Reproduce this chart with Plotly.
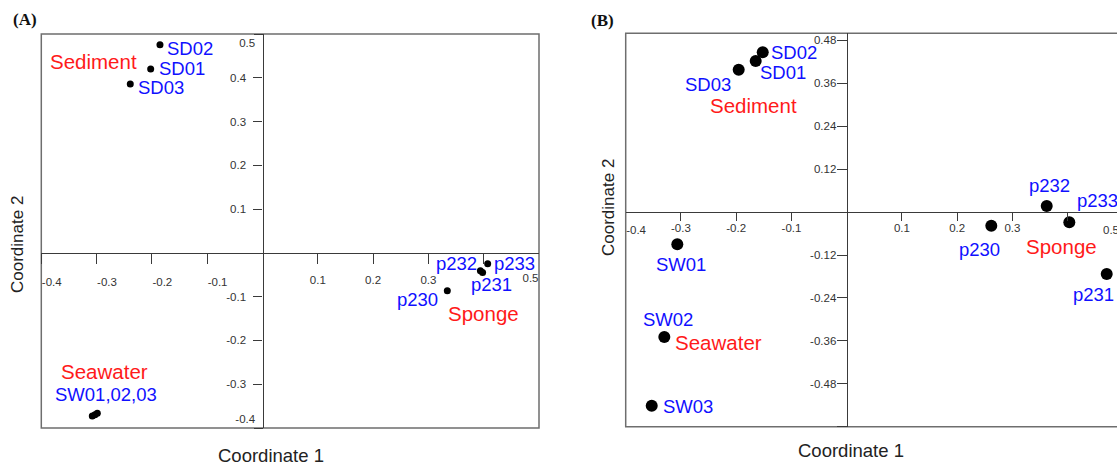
import plotly.graph_objects as go

W, H = 1117, 466

# ---------------- data ----------------
# Panel A (PCoA) sample coordinates
a_names = ["SD01", "SD02", "SD03", "SW01", "SW02", "SW03", "p230", "p231", "p232", "p233"]
a_x = [-0.2022, -0.1854, -0.2391, -0.3078, -0.2987, -0.3030, 0.3342, 0.398, 0.394, 0.4072]
a_y = [0.4201, 0.4756, 0.3856, -0.3725, -0.3664, -0.3700, -0.0863, -0.045, -0.041, -0.0247]

# Panel B (PCoA) sample coordinates
b_names = ["SD01", "SD02", "SD03", "SW01", "SW02", "SW03", "p230", "p231", "p232", "p233"]
b_x = [-0.1647, -0.1520, -0.1955, -0.3066, -0.3301, -0.3529, 0.2617, 0.4706, 0.3620, 0.4029]
b_y = [0.4225, 0.4469, 0.3982, -0.0900, -0.3493, -0.5414, -0.0380, -0.1731, 0.0171, -0.0285]

# group names
groups = ["Sediment", "Seawater", "Sponge"]

# tick values / labels
a_xticks_neg = [-0.4, -0.3, -0.2, -0.1]
a_xticks_neg_txt = ["-0.4", "-0.3", "-0.2", "-0.1"]
a_xticks_pos = [0.1, 0.2, 0.3, 0.4]
a_xticks_pos_txt = ["0.1", "0.2", "0.3", ""]
a_xticks_end = [0.5]
a_xticks_end_txt = ["0.5"]
a_yticks = [-0.3, -0.2, -0.1, 0.1, 0.2, 0.3, 0.4]
a_yticks_txt = ["-0.3", "-0.2", "-0.1", "0.1", "0.2", "0.3", "0.4"]
a_yticks_top = [0.5]
a_yticks_top_txt = ["0.5"]
a_yticks_bot = [-0.4]
a_yticks_bot_txt = ["-0.4"]

b_xticks = [-0.3, -0.2, -0.1, 0.1, 0.2, 0.3, 0.4]
b_xticks_txt = ["-0.3", "-0.2", "-0.1", "0.1", "0.2", "0.3", ""]
b_xticks_first = [-0.4]
b_xticks_first_txt = ["-0.4"]
b_xtick_last = 0.5
b_xtick_last_txt = "0.5"
b_yticks = [-0.6, -0.48, -0.36, -0.24, -0.12, 0.12, 0.24, 0.36, 0.48]
b_yticks_txt = ["", "-0.48", "-0.36", "-0.24", "-0.12", "0.12", "0.24", "0.36", "0.48"]

# ---------------- layout constants ----------------
A_XR = [-0.4, 0.5]
A_YR = [-0.4, 0.5]
B_XR = [-0.4, 0.4892]
B_YR = [-0.6, 0.5]

A_XD = [41.3 / W, 539 / W]
A_YD = [1 - 428 / H, 1 - 34 / H]
B_XD = [625.7 / W, 1.0]
B_YD = [1 - 426.7 / H, 1 - 33.3 / H]

FONT = "Liberation Sans, Arial, sans-serif"
AXIS_C = "#3a3a3a"
FRAME_C = "#6e6e6e"
TICK_FONT = dict(family=FONT, size=11.5, color="#333333")
BLUE = "#1010ff"
RED = "#ff1a1a"


def frac(v, rng, dom):
    return dom[0] + (v - rng[0]) / (rng[1] - rng[0]) * (dom[1] - dom[0])


def xaxis(dom, rng, vals, txt, pos, tlp="outside", standoff=0, line=False, over=None, ticklen=10):
    d = dict(domain=dom, range=rng, anchor="free", position=pos, side="bottom",
             tickmode="array", tickvals=vals, ticktext=txt, ticks="outside",
             ticklen=ticklen, tickwidth=1, tickcolor=AXIS_C, showline=line,
             linecolor=AXIS_C, linewidth=1.2, showgrid=False, zeroline=False,
             tickfont=TICK_FONT, ticklabelposition=tlp, ticklabelstandoff=standoff,
             fixedrange=True)
    if over:
        d["overlaying"] = over
    return d


def yaxis(dom, rng, vals, txt, pos, tlp="outside", standoff=0, line=False, over=None, ticklen=9):
    d = dict(domain=dom, range=rng, anchor="free", position=pos, side="left",
             tickmode="array", tickvals=vals, ticktext=txt, ticks="outside",
             ticklen=ticklen, tickwidth=1, tickcolor=AXIS_C, showline=line,
             linecolor=AXIS_C, linewidth=1.2, showgrid=False, zeroline=False,
             tickfont=TICK_FONT, ticklabelposition=tlp, ticklabelstandoff=standoff,
             fixedrange=True)
    if over:
        d["overlaying"] = over
    return d


a_x0 = frac(0, A_XR, A_XD)   # paper x of vertical zero axis
a_y0 = frac(0, A_YR, A_YD)   # paper y of horizontal zero axis
b_x0 = frac(0, B_XR, B_XD)
b_y0 = frac(0, B_YR, B_YD)

fig = go.Figure()

fig.add_trace(go.Scatter(x=a_x, y=a_y, mode="markers", xaxis="x", yaxis="y",
                         marker=dict(color="black", size=7), hoverinfo="text",
                         text=a_names, showlegend=False))
fig.add_trace(go.Scatter(x=b_x, y=b_y, mode="markers", xaxis="x2", yaxis="y2",
                         marker=dict(color="black", size=12), hoverinfo="text",
                         text=b_names, showlegend=False))
# empty traces so that the extra tick-label axes are drawn
for xa, ya in [("x3", "y"), ("x4", "y"), ("x", "y3"), ("x", "y4"), ("x5", "y2")]:
    fig.add_trace(go.Scatter(x=[None], y=[None], mode="markers", xaxis=xa, yaxis=ya,
                             showlegend=False, hoverinfo="skip"))

fig.update_layout(
    width=W, height=H, margin=dict(l=0, r=0, t=0, b=0),
    paper_bgcolor="white", plot_bgcolor="rgba(0,0,0,0)",
    font=dict(family=FONT),
    xaxis=xaxis(A_XD, A_XR, a_xticks_pos, a_xticks_pos_txt, a_y0, standoff=6, line=True),
    xaxis3=xaxis(A_XD, A_XR, a_xticks_neg, a_xticks_neg_txt, a_y0, tlp="outside right", standoff=18, over="x"),
    xaxis4=xaxis(A_XD, A_XR, a_xticks_end, a_xticks_end_txt, a_y0, tlp="outside left", standoff=14, over="x", ticklen=0),
    yaxis=yaxis(A_YD, A_YR, a_yticks, a_yticks_txt, a_x0, standoff=5, line=True),
    yaxis3=yaxis(A_YD, A_YR, a_yticks_top, a_yticks_top_txt, a_x0, tlp="outside bottom", standoff=5, over="y"),
    yaxis4=yaxis(A_YD, A_YR, a_yticks_bot, a_yticks_bot_txt, a_x0, tlp="outside top", standoff=5, over="y"),
    xaxis2=xaxis(B_XD, B_XR, b_xticks, b_xticks_txt, b_y0, standoff=-3, line=True, ticklen=8),
    xaxis5=xaxis(B_XD, B_XR, b_xticks_first, b_xticks_first_txt, b_y0, tlp="outside right", standoff=7, over="x2", ticklen=0),
    yaxis2=yaxis(B_YD, B_YR, b_yticks, b_yticks_txt, b_x0, standoff=-2, line=True, ticklen=10),
)

# frames
shapes = [
    dict(type="rect", xref="paper", yref="paper", x0=A_XD[0], x1=A_XD[1], y0=A_YD[0], y1=A_YD[1],
         line=dict(color=FRAME_C, width=1.5), layer="below"),
    dict(type="path", xref="paper", yref="paper",
         path=f"M 1.0,{B_YD[1]} L {B_XD[0]},{B_YD[1]} L {B_XD[0]},{B_YD[0]} L 1.0,{B_YD[0]}",
         line=dict(color=FRAME_C, width=1.5), layer="below"),
]
fig.update_layout(shapes=shapes)

ann = []

# last x tick label of panel B lies just beyond the visible range
ann.append(dict(x=frac(b_xtick_last, B_XR, B_XD), y=0, xref="paper", yref="y2",
                text=b_xtick_last_txt, showarrow=False, xanchor="right", yanchor="top",
                xshift=-2, yshift=-10, font=TICK_FONT))

# sample labels (name -> text, anchor, xshift, yshift)
a_lab = {
    "SD02": ("SD02", "left", 5.5, -3.5),
    "SD01": ("SD01", "left", 6.5, 0.5),
    "SD03": ("SD03", "left", 5.5, -3.5),
    "SW01": ("SW01,02,03", "center", 14, 21),
    "p232": ("p232", "right", -1.5, 7),
    "p233": ("p233", "left", 4.5, 0),
    "p231": ("p231", "center", 9, -12),
    "p230": ("p230", "right", -7, -8.5),
}
b_lab = {
    "SD02": ("SD02", "left", 6, -0.7),
    "SD01": ("SD01", "left", 2.3, -11.7),
    "SD03": ("SD03", "right", -6, -14.3),
    "SW01": ("SW01", "center", 3.4, -19.7),
    "SW02": ("SW02", "center", 3.2, 17.7),
    "SW03": ("SW03", "left", 9.3, -1),
    "p232": ("p232", "center", 2.6, 20.7),
    "p233": ("p233", "left", 5.4, 22.3),
    "p230": ("p230", "center", -12, -23.6),
    "p231": ("p231", "center", -13.7, -20),
}
for names, xs, ys, labs, xr, yr in [(a_names, a_x, a_y, a_lab, "x", "y"),
                                    (b_names, b_x, b_y, b_lab, "x2", "y2")]:
    for n, xv, yv in zip(names, xs, ys):
        if n not in labs:
            continue
        t, anc, dx, dy = labs[n]
        ann.append(dict(x=xv, y=yv, xref=xr, yref=yr, text=t, showarrow=False,
                        xanchor=anc, yanchor="middle", xshift=dx, yshift=dy,
                        font=dict(family=FONT, size=18.5, color=BLUE)))

# group labels (placed near their clusters)
a_grp_pos = {"Sediment": (-0.3065, 0.4367), "Seawater": (-0.2866, -0.2714), "Sponge": (0.4005, -0.138)}
b_grp_pos = {"Sediment": (-0.1678, 0.2995), "Seawater": (-0.2329, -0.3641), "Sponge": (0.3895, -0.0948)}
for pos, xr, yr in [(a_grp_pos, "x", "y"), (b_grp_pos, "x2", "y2")]:
    for g in groups:
        gx, gy = pos[g]
        ann.append(dict(x=gx, y=gy, xref=xr, yref=yr, text=g, showarrow=False,
                        xanchor="center", yanchor="middle",
                        font=dict(family=FONT, size=20.5, color=RED)))

# axis titles & panel letters
TITLE_FONT_H = dict(family=FONT, size=18.5, color="#222222")
TITLE_FONT_V = dict(family=FONT, size=17, color="#222222")
ann += [
    dict(x=271 / W, y=1 - 455 / H, xref="paper", yref="paper", text="Coordinate 1", showarrow=False,
         xanchor="center", yanchor="middle", font=TITLE_FONT_H),
    dict(x=851 / W, y=1 - 450 / H, xref="paper", yref="paper", text="Coordinate 1", showarrow=False,
         xanchor="center", yanchor="middle", font=TITLE_FONT_H),
    dict(x=18 / W, y=1 - 245 / H, xref="paper", yref="paper", text="Coordinate 2", showarrow=False,
         xanchor="center", yanchor="middle", textangle=-90, font=TITLE_FONT_V),
    dict(x=608 / W, y=1 - 207 / H, xref="paper", yref="paper", text="Coordinate 2", showarrow=False,
         xanchor="center", yanchor="middle", textangle=-90, font=TITLE_FONT_V),
    dict(x=24.5 / W, y=1 - 19 / H, xref="paper", yref="paper", text="<b>(A)</b>", showarrow=False,
         xanchor="center", yanchor="middle",
         font=dict(family="Liberation Serif, Times New Roman, serif", size=17, color="#111111")),
    dict(x=602.5 / W, y=1 - 20.5 / H, xref="paper", yref="paper", text="<b>(B)</b>", showarrow=False,
         xanchor="center", yanchor="middle",
         font=dict(family="Liberation Serif, Times New Roman, serif", size=17, color="#111111")),
]
fig.update_layout(annotations=ann)

fig.write_html("out.html", config={"displayModeBar": False},
               post_script="document.body.style.margin='0px';document.body.style.overflow='hidden';")
